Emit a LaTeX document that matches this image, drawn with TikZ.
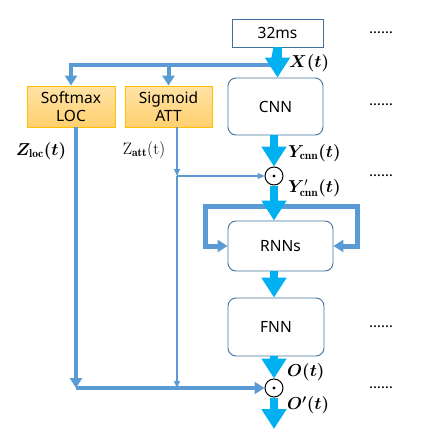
\documentclass[tikz,border=0pt]{standalone}
\usepackage{fontspec}
\usepackage{bm}
\setsansfont{Noto Sans}
\usetikzlibrary{arrows.meta}
\definecolor{flowcyan}{HTML}{00B0F0}
\definecolor{barblue}{HTML}{5B9BD5}
\definecolor{edgeblue}{HTML}{41719C}
\definecolor{gatetop}{HTML}{FFE3A6}
\definecolor{gatebot}{HTML}{FFD06E}
\definecolor{gateline}{HTML}{FFC000}

\tikzstyle{block} = [draw=edgeblue, line width=0.9pt, rounded corners=8pt, inner sep=0pt, align=center, font=\sffamily\fontsize{15.5}{18}\selectfont]
\tikzstyle{gatebox} = [block, draw=gateline, rounded corners=0pt, top color=gatetop, bottom color=gatebot]
\tikzstyle{mult} = [circle, draw, line width=1pt, minimum size=18pt, inner sep=0pt]
\tikzstyle{flow} = [draw=flowcyan, line width=8pt, -{Triangle[width=24pt,length=20pt]}]
\tikzstyle{bus} = [draw=barblue, line width=4pt, -{Triangle[width=12pt,length=10pt]}]
\tikzstyle{thin} = [draw=barblue, line width=1.3pt, -{Triangle[width=6pt,length=7pt]}]
\tikzstyle{lbl} = [anchor=west, inner sep=0pt, font=\fontsize{16.5}{18}\selectfont]
\tikzstyle{more} = [inner sep=0pt, font=\sffamily\fontsize{15}{16}\selectfont]

\begin{document}
\begin{tikzpicture}[x=1pt,y=-1pt]
			\useasboundingbox (0,0) rectangle (422,442);
			% blocks
			\node[block, rounded corners=0pt, minimum width=91pt, minimum height=28pt] (in) at (277.5,33) {32ms};
			\node[block, minimum width=95pt, minimum height=57pt] (cnn) at (275.5,106.5) {CNN};
			\node[mult] (m1) at (274,176) {};
			\node[block, minimum width=105pt, minimum height=50pt] (rnn) at (280.5,246) {RNNs};
			\node[block, minimum width=96pt, minimum height=58pt] (fnn) at (276,327) {FNN};
			\node[mult] (m2) at (274,388) {};
			\node[circle, fill, inner sep=1.2pt] at (m1) {};
			\node[circle, fill, inner sep=1.2pt] at (m2) {};
			\node[gatebox, minimum width=88pt, minimum height=41pt] (loc) at (71,106.5) {Softmax\\LOC};
			\node[gatebox, minimum width=87pt, minimum height=41pt] (att) at (168.5,106.5) {Sigmoid\\ATT};
			\coordinate (split) at (274,65);
			\coordinate (tap) at (177,176);
			\coordinate (join) at (76,388);
			\coordinate (out) at (274,429);
			% attention branches
			\draw[bus] (split) -| (loc.north);
			\draw[bus] (att.north |- split) -- (att.north);
			\draw[bus] (loc.south -| join) -- (join);
			\draw[bus] (join) -- (m2.west);
			\draw[thin] (att.south -| tap) -- (tap);
			\draw[thin] (tap) -- (tap |- join);
			\draw[thin] (tap) -- (m1.west);
			% recurrent loop
			\coordinate (lt) at (205,206);
			\coordinate (rt) at (357,206);
			\draw[bus, line width=5pt] (rt) -- (lt) |- (rnn.west);
			\draw[bus, line width=5pt] (lt) -- (rt) |- (rnn.east);
			% main flow
			\draw[flow] (in) -- (in |- cnn.north);
			\draw[flow] (cnn.south -| m1) -- (m1.north);
			\draw[flow] (m1.south) -- (m1 |- rnn.north);
			\draw[flow] (rnn.south -| m1) -- (m1 |- fnn.north);
			\draw[flow] (fnn.south -| m2) -- (m2.north);
			\draw[flow] (m2.south) -- (out);
			\draw[flow, -] (in.south) -- (split);
			% labels
			\node[lbl] (lx) at (289,63) {$\bm{X(t)}$};
			\node[lbl] (ly) at (288,153) {$\bm{Y}_{\mathbf{cnn}}\bm{(t)}$};
			\node[lbl] (lyp) at (288,188) {$\bm{Y}'_{\mathbf{cnn}}\bm{(t)}$};
			\node[lbl] (lo) at (287,372) {$\bm{O(t)}$};
			\node[lbl] (lop) at (287,405) {$\bm{O'(t)}$};
			\node[lbl, anchor=center] (lz1) at (41,151) {$\bm{Z}_{\mathbf{loc}}\bm{(t)}$};
			\node[lbl, anchor=center] (lz2) at (144,150) {$\mathrm{Z}_{\mathbf{att}}(\mathrm{t})$};
			\foreach \y in {33,105,176,327,388}
				\node[more] at (381,\y) {……};
		\end{tikzpicture}
\end{document}
